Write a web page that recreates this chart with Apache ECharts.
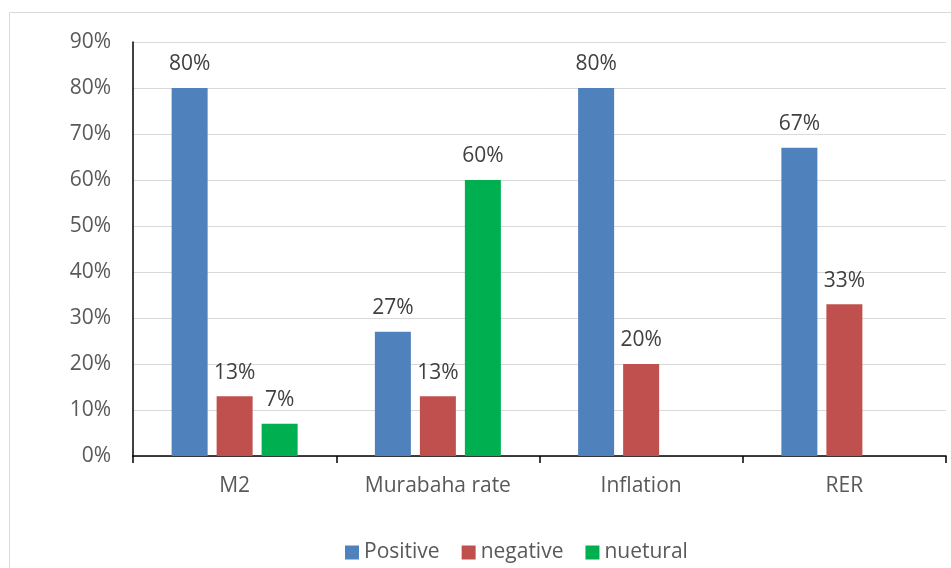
<!DOCTYPE html>
<html>
<head>
<meta charset="utf-8">
<script src="https://cdn.jsdelivr.net/npm/echarts@6/dist/echarts.min.js"></script>
<style>
  html, body { margin: 0; padding: 0; background: #fff; }
  #chart { width: 951px; height: 568px; }
</style>
</head>
<body>
<div id="chart"></div>
<script>
// Survey responses per variable (percent)
const categories = ['M2', 'Murabaha rate', 'Inflation', 'RER'];
const positive = [80, 27, 80, 67];
const negative = [13, 13, 20, 33];
const neutral = [7, 60, null, null];
const yTicks = [0, 10, 20, 30, 40, 50, 60, 70, 80, 90];

const FONT = 'Open Sans';
const FS = 21;
const chart = echarts.init(document.getElementById('chart'));

function barSeries(name, data, color) {
  return {
    name: name,
    type: 'bar',
    data: data,
    barWidth: 36,
    barGap: '25%',
    itemStyle: { color: color },
    label: {
      show: true,
      position: 'top',
      distance: 13,
      formatter: p => p.value == null ? '' : p.value + '%',
      color: '#404040',
      fontFamily: FONT,
      fontSize: FS
    }
  };
}

chart.setOption({
  animation: false,
  textStyle: { fontFamily: FONT },
  graphic: [{
    type: 'rect',
    shape: { x: 9.5, y: 12.5, width: 1100, height: 700 },
    style: { fill: 'none', stroke: '#d9d9d9', lineWidth: 1 },
    silent: true,
    z: -1
  }],
  grid: { left: 133, right: 5, top: 42, bottom: 112, containLabel: false },
  legend: {
    left: 340,
    top: 537,
    itemWidth: 14,
    itemHeight: 14,
    itemGap: 22,
    itemTextGap: 5,
    icon: 'rect',
    textStyle: { color: '#595959', fontFamily: FONT, fontSize: FS },
    data: ['Positive', 'negative', 'nuetural']
  },
  xAxis: {
    type: 'category',
    data: categories,
    axisLine: { lineStyle: { color: '#000', width: 1.5 } },
    axisTick: { show: true, length: 7, lineStyle: { color: '#000', width: 1.5 } },
    axisLabel: { color: '#595959', fontFamily: FONT, fontSize: FS, margin: 20 }
  },
  yAxis: {
    type: 'value',
    min: yTicks[0],
    max: yTicks[yTicks.length - 1],
    interval: 10,
    axisLine: { show: true, lineStyle: { color: '#000', width: 1.5 } },
    axisTick: { show: false },
    axisLabel: { color: '#595959', fontFamily: FONT, fontSize: FS, margin: 22, formatter: '{value}%' },
    splitLine: { lineStyle: { color: '#d9d9d9', width: 1 } }
  },
  series: [
    barSeries('Positive', positive, '#4f81bd'),
    barSeries('negative', negative, '#c0504d'),
    barSeries('nuetural', neutral, '#00b050')
  ]
});
</script>
</body>
</html>
